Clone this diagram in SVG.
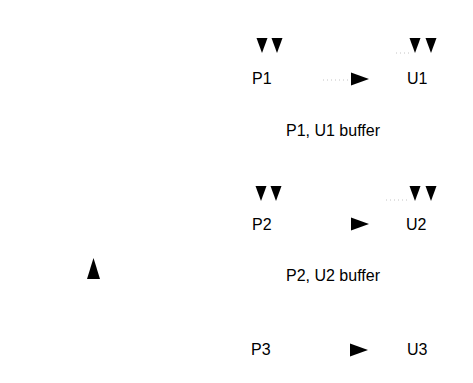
<svg xmlns="http://www.w3.org/2000/svg" width="473" height="383" viewBox="0 0 473 383">
<style>
text{font-family:"Liberation Sans",Arial,sans-serif;font-size:16px;fill:#000}
.ah{fill:#000}
.faint{stroke:#c4c4c4;stroke-width:1;fill:none;stroke-dasharray:1 3}
</style>
<defs>
<polygon id="down" points="-5.5,0 5.5,0 0,15"/>
<polygon id="right" points="0,-6.5 0,6.5 18,0"/>
</defs>
<rect width="473" height="383" fill="#fff"/>
<g id="connectors">
<line class="faint" x1="323" y1="80" x2="350" y2="80"/>
<line class="faint" x1="396" y1="53" x2="410" y2="53"/>
<line class="faint" x1="386" y1="200" x2="407" y2="200"/>
<use href="#down" class="ah" x="262" y="38"/>
<use href="#down" class="ah" x="277" y="38"/>
<use href="#down" class="ah" x="415" y="38"/>
<use href="#down" class="ah" x="431" y="38"/>
<use href="#right" class="ah" x="351" y="79"/>
<use href="#down" class="ah" x="261" y="186"/>
<use href="#down" class="ah" x="276" y="186"/>
<use href="#down" class="ah" x="415" y="186"/>
<use href="#down" class="ah" x="431" y="186"/>
<use href="#right" class="ah" x="351" y="224"/>
<use href="#right" class="ah" x="350" y="350"/>
<polygon class="ah" points="87,279 100,279 93.5,258"/>
</g>
<g id="P1"><text x="252" y="84">P1</text></g>
<g id="U1"><text x="407" y="84">U1</text></g>
<g id="buffer1"><text x="286" y="136">P1, U1 buffer</text></g>
<g id="P2"><text x="252" y="230">P2</text></g>
<g id="U2"><text x="406" y="230">U2</text></g>
<g id="buffer2"><text x="286" y="281">P2, U2 buffer</text></g>
<g id="P3"><text x="251" y="355">P3</text></g>
<g id="U3"><text x="407" y="355">U3</text></g>
</svg>
